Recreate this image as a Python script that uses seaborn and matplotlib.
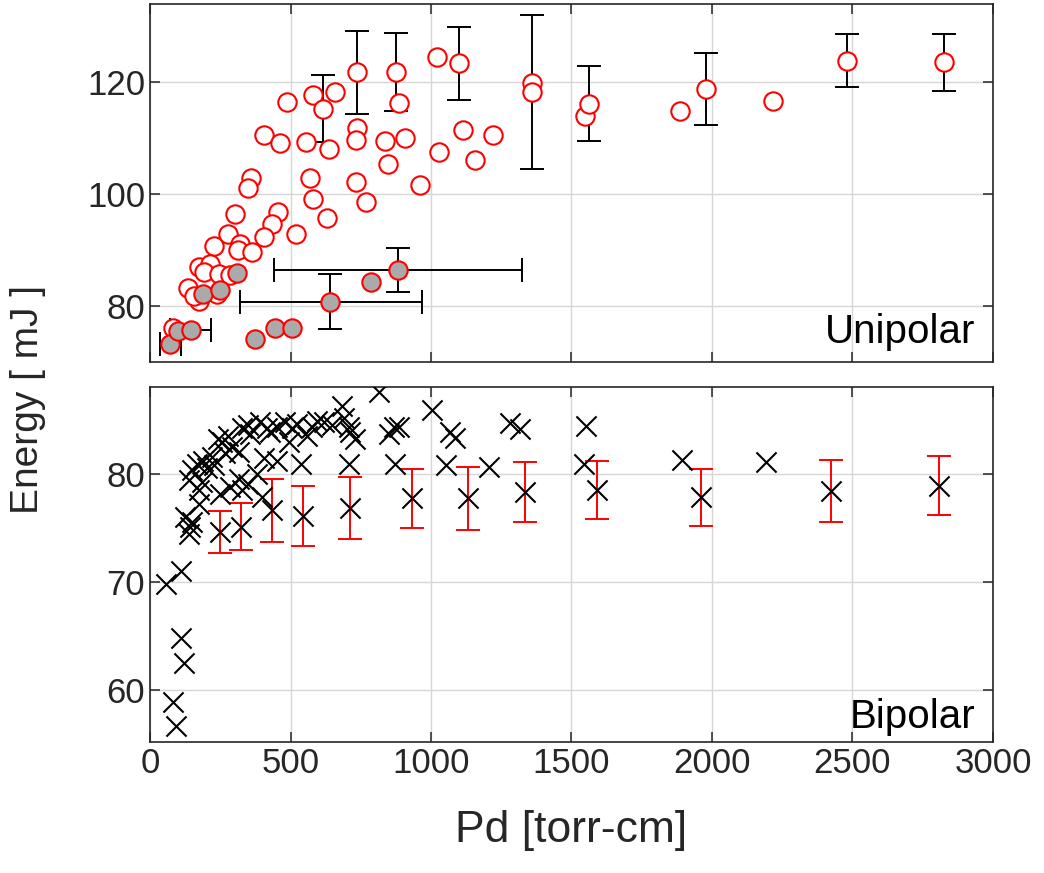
#!/usr/bin/env python3
# Energy vs Pd, unipolar (top) and bipolar (bottom) pulses
import matplotlib
matplotlib.use("Agg")
import matplotlib.pyplot as plt
import seaborn as sns

# ---- Unipolar: open red circles (Pd [torr-cm], energy [mJ])
uni_open_pd = [488, 580, 658, 885, 407, 462, 554, 638, 738, 732, 836, 909,
               1115, 1220, 1027, 1155, 848, 962, 360, 348, 569, 732, 580, 768,
               631, 304, 456, 435, 407, 520, 277, 229, 321, 313, 363, 176,
               215, 193, 244, 286, 135, 238, 173, 158, 83, 1020, 1360, 1547,
               1886, 2216]
uni_open_e = [116.4, 117.8, 118.3, 116.3, 110.6, 109.2, 109.3, 108.0, 111.8,
              109.7, 109.5, 110.1, 111.4, 110.5, 107.6, 106.1, 105.4, 101.7,
              102.9, 101.1, 102.9, 102.1, 99.1, 98.6, 95.8, 96.4, 96.8, 94.6,
              92.3, 92.9, 92.9, 90.7, 91.1, 90.1, 89.7, 87.0, 87.6, 86.1, 85.8,
              85.5, 83.2, 82.2, 80.9, 81.8, 76.0, 124.6, 119.9, 113.9, 114.9,
              116.6]

# open circles that carry a black vertical error bar
uni_bar_pd = [617, 738, 877, 1100, 1360, 1562, 1980, 2481, 2827]
uni_bar_e = [115.3, 121.8, 121.8, 123.4, 118.3, 116.2, 118.8, 123.9, 123.6]
uni_bar_err = [6.0, 7.4, 7.0, 6.5, 13.8, 6.7, 6.5, 4.7, 5.1]

# gray filled circles
uni_fill_pd = [71, 101, 146, 190, 249, 311, 374, 444, 506, 640, 786, 883]
uni_fill_e = [73.2, 75.5, 75.7, 82.1, 82.9, 86.0, 74.2, 76.0, 76.0, 80.8, 84.3, 86.4]

# gray circles with horizontal spread (and some with vertical bars)
uni_fbar_pd = [71, 146, 640, 883]
uni_fbar_e = [73.2, 75.7, 80.8, 86.4]
uni_fbar_pd_lo = [36, 71, 319, 440]
uni_fbar_pd_hi = [110, 217, 967, 1325]
uni_fvbar_pd = [640, 883]
uni_fvbar_e = [80.8, 86.4]
uni_fvbar_err = [4.9, 3.9]

# ---- Bipolar: black crosses
bi_pd = [56, 110, 110, 122, 83, 92,
         137, 143, 149, 125, 173, 173, 137, 149, 167, 190, 202, 226, 220,
         243, 256, 268, 292, 315, 327, 357, 393, 405, 417, 452, 452, 482,
         506, 524, 536, 560, 577, 596, 618, 647, 684, 690, 708, 713, 707,
         731, 815, 851, 869, 885, 873, 1004, 1069, 1085, 1052, 1207, 1280,
         1316, 1553, 1544, 1893, 2192,
         250, 286, 327, 381, 399, 315, 350, 184, 279, 350, 428, 493]
bi_e = [69.8, 71.0, 64.8, 62.5, 58.9, 56.7,
        74.4, 75.1, 75.5, 76.0, 77.2, 78.5, 79.4, 80.3, 80.9, 81.2, 80.5,
        80.8, 81.5, 83.2, 82.9, 81.9, 82.5, 82.0, 84.2, 83.7, 84.8, 81.4,
        84.2, 84.3, 81.2, 84.8, 84.2, 84.6, 80.9, 83.5, 84.3, 84.9, 84.8,
        84.5, 86.2, 85.1, 84.3, 83.8, 80.9, 83.2, 87.5, 83.7, 84.3, 84.3,
        80.9, 85.9, 83.8, 83.3, 80.8, 80.6, 84.7, 84.1, 84.4, 80.9, 81.3,
        81.1,
        78.1, 78.8, 78.5, 80.0, 77.8, 79.5, 79.0, 79.2, 83.5, 84.5, 83.8, 82.9]

# crosses with red error bars
bi_bar_pd = [250, 324, 435, 545, 713, 932, 1133, 1336, 1591, 1962, 2424, 2809]
bi_bar_e = [74.6, 75.1, 76.6, 76.1, 76.8, 77.7, 77.7, 78.3, 78.5, 77.8, 78.4, 78.9]
bi_bar_err = [1.95, 2.2, 2.9, 2.75, 2.85, 2.75, 2.9, 2.75, 2.7, 2.65, 2.85, 2.75]

x_ticks = [0, 500, 1000, 1500, 2000, 2500, 3000]
uni_ticks = [80, 100, 120]
bi_ticks = [60, 70, 80]


def style_axes(ax):
    ax.grid(True, color="#d6d6d6", linewidth=1.0)
    ax.set_axisbelow(True)
    ax.tick_params(direction="in", length=7, width=1.1, top=True, right=True,
                   labelsize=25, colors="#262626")
    for s in ax.spines.values():
        s.set_color("#262626")
        s.set_linewidth(1.2)


def main():
    sns.set_theme(style="ticks")
    plt.rcParams["font.family"] = ["Liberation Sans", "DejaVu Sans"]

    fig = plt.figure(figsize=(10.44, 8.73), dpi=100)
    ax1 = fig.add_axes([0.1437, 0.5853, 0.8074, 0.4101])
    ax2 = fig.add_axes([0.1437, 0.1500, 0.8074, 0.4067])

    # top panel
    ax1.errorbar(uni_bar_pd, uni_bar_e, yerr=uni_bar_err, fmt="none",
                 ecolor="black", elinewidth=1.4, capsize=8.5, capthick=1.4, zorder=2)
    lo = [c - l for c, l in zip(uni_fbar_pd, uni_fbar_pd_lo)]
    hi = [h - c for c, h in zip(uni_fbar_pd, uni_fbar_pd_hi)]
    ax1.errorbar(uni_fbar_pd, uni_fbar_e, xerr=[lo, hi], fmt="none",
                 ecolor="black", elinewidth=1.4, capsize=8.5, capthick=1.4, zorder=2)
    ax1.errorbar(uni_fvbar_pd, uni_fvbar_e, yerr=uni_fvbar_err, fmt="none",
                 ecolor="black", elinewidth=1.4, capsize=8.5, capthick=1.4, zorder=2)
    sns.scatterplot(x=uni_open_pd + uni_bar_pd, y=uni_open_e + uni_bar_e, ax=ax1,
                    marker="o", s=175, facecolor="white", edgecolor="red",
                    linewidth=1.5, zorder=3)
    sns.scatterplot(x=uni_fill_pd, y=uni_fill_e, ax=ax1, marker="o", s=175,
                    facecolor="#aaaaaa", edgecolor="red", linewidth=1.5, zorder=4)
    ax1.set_xlim(0, 3000)
    ax1.set_ylim(70, 134)
    ax1.set_xticks(x_ticks)
    ax1.set_xticklabels([])
    ax1.set_yticks(uni_ticks)
    style_axes(ax1)
    ax1.text(0.979, 0.085, "Unipolar", transform=ax1.transAxes, ha="right",
             va="center", fontsize=29, color="black")

    # bottom panel
    ax2.errorbar(bi_bar_pd, bi_bar_e, yerr=bi_bar_err, fmt="none",
                 ecolor="red", elinewidth=1.4, capsize=8.5, capthick=1.4, zorder=2)
    sns.scatterplot(x=bi_pd + bi_bar_pd, y=bi_e + bi_bar_e, ax=ax2, marker="x",
                    s=210, color="black", linewidth=1.5, zorder=3)
    ax2.set_xlim(0, 3000)
    ax2.set_ylim(55.2, 88)
    ax2.set_xticks(x_ticks)
    ax2.set_yticks(bi_ticks)
    style_axes(ax2)
    ax2.text(0.979, 0.07, "Bipolar", transform=ax2.transAxes, ha="right",
             va="center", fontsize=29, color="black")
    ax2.set_xlabel("Pd [torr-cm]", fontsize=32, color="#262626", labelpad=22)

    fig.text(0.027, 0.542, "Energy [ mJ ]", rotation=90, ha="center",
             va="center", fontsize=28, color="#262626")

    fig.savefig("out.png", dpi=100)


if __name__ == "__main__":
    main()
